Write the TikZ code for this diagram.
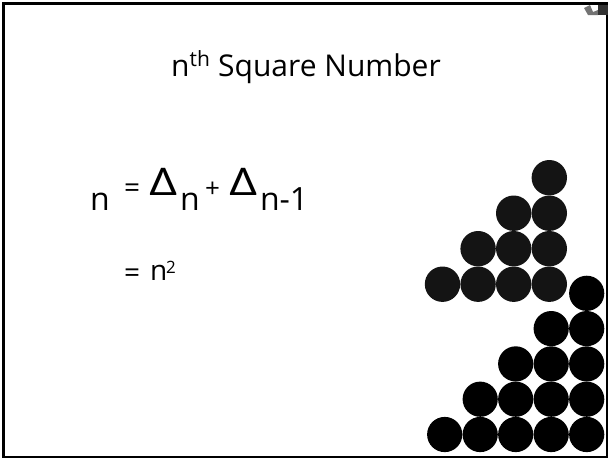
\documentclass[tikz,border=0pt]{standalone}
\usepackage{fontspec}
\setmainfont{Open Sans}
\begin{document}
\begin{tikzpicture}[x=1pt,y=-1pt,
  txt/.style={inner sep=0pt,outer sep=0pt,anchor=base west,text=black},
  delta/.style={txt,font=\fontsize{34}{40}\selectfont,xscale=1.45,yscale=1.12},
  tridot/.style={fill=black!92},
  sqdot/.style={fill=black}]
\useasboundingbox (0,0) rectangle (611,459);
\fill[white] (0,0) rectangle (611,459);
% frame
\draw[line width=2.5pt,black] (3.5,3.5) rectangle (607,457);
% small icon top right
\fill[black!55] (584,8) -- (590,5) -- (593,12) -- (598,10) -- (598,15) -- (588,15) -- cycle;
\fill[black!80] (598,5) rectangle (608,15);
% title
\node[inner sep=0pt,anchor=base,font=\fontsize{30}{36}\selectfont] (title) at (306,76) {n\textsuperscript{th} Square Number};
% equation line 1
\node[txt,font=\fontsize{32}{38}\selectfont] (n1) at (90,210) {n};
\node[txt,font=\fontsize{28}{32}\selectfont] (eq1) at (124,197) {=};
\node[delta] (d1) at (149,195) {Δ};
\node[txt,font=\fontsize{32}{38}\selectfont] (s1) at (180,210) {n};
\node[txt,font=\fontsize{26}{30}\selectfont] (plus) at (205,197) {+};
\node[delta] (d2) at (229,195) {Δ};
\node[txt,font=\fontsize{32}{38}\selectfont] (s2) at (260,210) {n-1};
% equation line 2
\node[txt,font=\fontsize{28}{32}\selectfont] (eq2) at (124,282) {=};
\node[txt,font=\fontsize{28}{34}\selectfont] (n2) at (150,280) {n};
\node[txt,font=\fontsize{17}{20}\selectfont] (sq) at (166,273) {2};
% triangle of dots
\foreach \r in {0,...,3}{
  \foreach \c in {0,...,\r}{
    \fill[tridot] ({549.3-35.6*\c},{177.7+35.5*\r}) circle (17.7);
  }
}
% square of dots (staircase)
\foreach \r in {0,...,4}{
  \foreach \c in {0,...,\r}{
    \fill[sqdot] ({586.7-35.5*\c},{293.3+35.3*\r}) circle (17.6);
  }
}
\end{tikzpicture}
\end{document}
